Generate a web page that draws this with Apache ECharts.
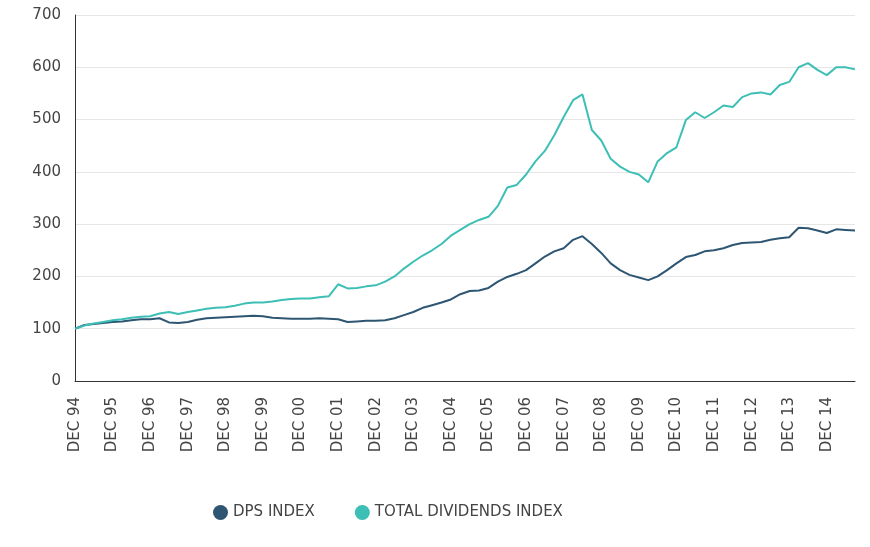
<!DOCTYPE html>
<html>
<head>
<meta charset="utf-8">
<script src="https://cdn.jsdelivr.net/npm/echarts@6/dist/echarts.min.js"></script>
<style>
html, body { margin: 0; padding: 0; background: #fff; }
#chart { width: 870px; height: 547px; }
</style>
</head>
<body>
<div id="chart"></div>
<script>
// quarterly readings, Dec 1994 .. Sep 2015
const years = ['94','95','96','97','98','99','00','01','02','03','04','05','06','07','08','09','10','11','12','13','14','15'];
const quarterNames = ['MAR', 'JUN', 'SEP', 'DEC'];

const dpsIndex = [
    100,
    107, 109, 111, 113,
    114, 116, 118, 118,
    120, 112, 111, 113,
    117, 120, 121, 122,
    123, 124, 125, 124,
    121, 120, 119, 119,
    119, 120, 119, 118,
    113, 114, 115, 115,
    116, 120, 126, 132,
    140, 145, 150, 156,
    166, 172, 173, 178,
    190, 199, 205, 212,
    225, 238, 248, 254,
    270, 277, 262, 245,
    225, 212, 203, 198,
    193, 200, 212, 225,
    237, 241, 248, 250,
    254, 260, 264, 265,
    266, 270, 273, 275,
    293, 292, 288, 283,
    290, 289, 288
];

const totalDividendsIndex = [
    100,
    106, 110, 113, 116,
    118, 121, 123, 124,
    129, 132, 128, 132,
    135, 138, 140, 141,
    144, 148, 150, 150,
    152, 155, 157, 158,
    158, 160, 162, 185,
    177, 178, 181, 183,
    190, 200, 215, 228,
    240, 250, 262, 278,
    289, 300, 308, 314,
    335, 370, 375, 395,
    420, 440, 470, 505,
    537, 548, 480, 460,
    425, 410, 400, 395,
    380, 420, 436, 447,
    499, 514, 503, 514,
    527, 524, 543, 550,
    552, 548, 566, 572,
    600, 608, 595, 585,
    600, 600, 596
];

// build category labels: DEC 94, MAR 95, ...
const categories = [];
for (let i = 0; i < dpsIndex.length; i++) {
    const y = Math.floor((i + 3) / 4);
    const q = (i + 3) % 4;
    categories.push(quarterNames[q] + ' ' + years[y]);
}

const chart = echarts.init(document.getElementById('chart'));

const option = {
    animation: false,
    textStyle: { fontFamily: 'DejaVu Sans' },
    grid: {
        left: 75,
        right: 15,
        top: 15,
        bottom: 166
    },
    legend: {
        bottom: 22,
        left: 208,
        icon: 'circle',
        itemWidth: 15,
        itemHeight: 15,
        itemGap: 40,
        textStyle: { color: '#444', fontSize: 15, fontFamily: 'DejaVu Sans' },
        data: ['DPS INDEX', 'TOTAL DIVIDENDS INDEX']
    },
    xAxis: {
        type: 'category',
        boundaryGap: false,
        data: categories,
        axisLine: { lineStyle: { color: '#333', width: 1 } },
        axisTick: { show: false },
        axisLabel: {
            rotate: 90,
            interval: 3,
            color: '#444',
            fontSize: 15,
            margin: 16
        },
        splitLine: { show: false }
    },
    yAxis: {
        type: 'value',
        min: 0,
        max: 700,
        interval: 100,
        axisLine: { show: true, lineStyle: { color: '#333', width: 1 } },
        axisTick: { show: false },
        axisLabel: { color: '#444', fontSize: 15, margin: 14 },
        splitLine: { lineStyle: { color: '#e6e6e6' } }
    },
    series: [
        {
            name: 'DPS INDEX',
            type: 'line',
            data: dpsIndex,
            showSymbol: false,
            itemStyle: { color: '#2e5673' },
            lineStyle: { color: '#2e5673', width: 2 }
        },
        {
            name: 'TOTAL DIVIDENDS INDEX',
            type: 'line',
            data: totalDividendsIndex,
            showSymbol: false,
            itemStyle: { color: '#3dbfb6' },
            lineStyle: { color: '#3dbfb6', width: 2 }
        }
    ]
};

chart.setOption(option);
</script>
</body>
</html>
